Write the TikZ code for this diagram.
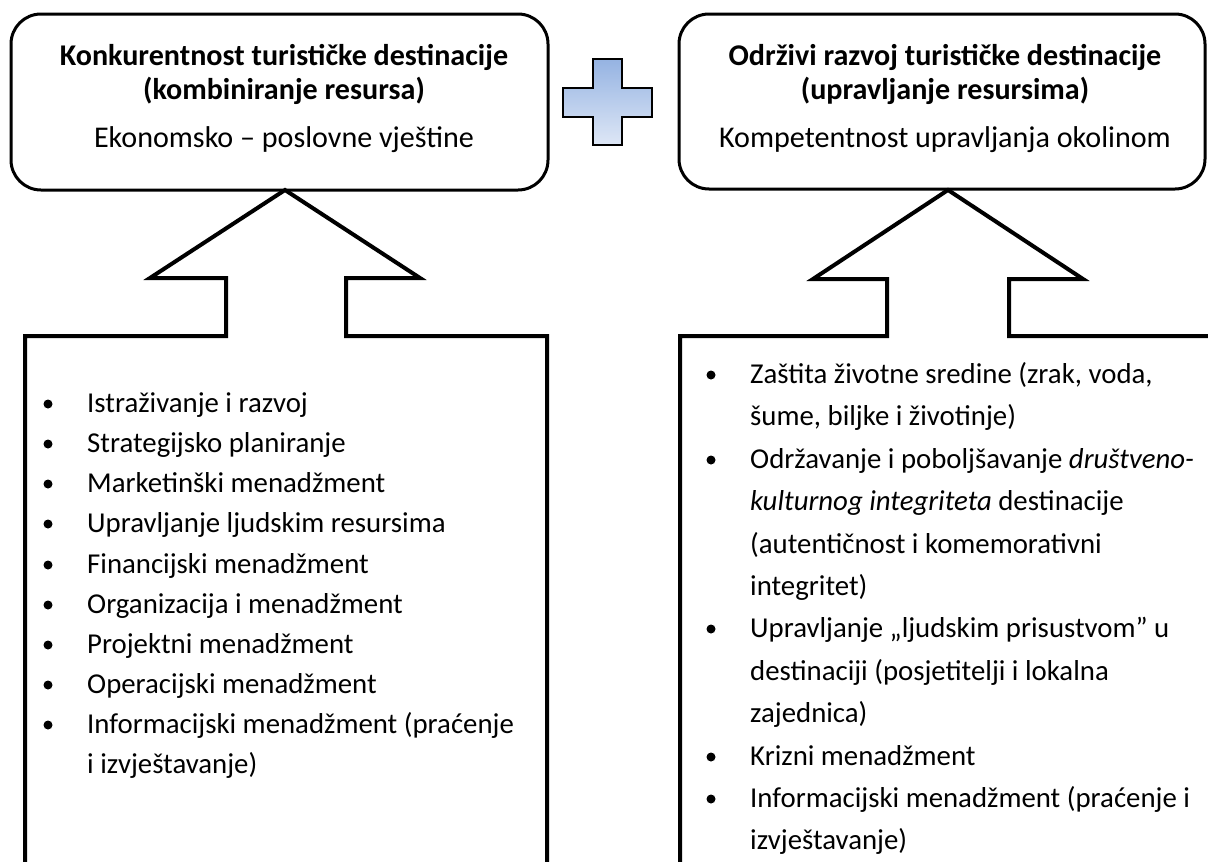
\documentclass[tikz,border=0pt]{standalone}
\usepackage{fontspec}
\setmainfont{Carlito}
\definecolor{plustop}{RGB}{149,179,226}
\definecolor{plusbot}{RGB}{222,231,246}
\begin{document}
\begin{tikzpicture}[x=1pt,y=-1pt,
  topbox/.style={draw=black, line width=3pt, rounded corners=30pt},
  arrowshape/.style={draw=black, line width=4pt, line join=miter},
  titletxt/.style={font=\fontsize{30.1}{36}\selectfont\bfseries, anchor=base, inner sep=0pt},
  subtxt/.style={font=\fontsize{30.1}{36}\selectfont, anchor=base, inner sep=0pt},
  itemtxt/.style={font=\fontsize{28.8}{34}\selectfont, anchor=base west, inner sep=0pt},
  bul/.style={circle, fill=black, inner sep=0pt, minimum size=9pt}]
\clip (0,0) rectangle (1208,862);
\fill[white] (0,0) rectangle (1208,862);

% top boxes
\draw[topbox] (11,14) rectangle (548,190);
\draw[topbox] (679,14) rectangle (1205,189);

% plus sign
\shadedraw[top color=plustop, bottom color=plusbot, draw=black, line width=2pt]
  (593,59) -- (622,59) -- (622,88) -- (652,88) -- (652,117) -- (622,117) -- (622,145)
  -- (593,145) -- (593,117) -- (563,117) -- (563,88) -- (593,88) -- cycle;

% arrow-shaped boxes
\draw[arrowshape] (25,880) -- (25,336) -- (226,336) -- (226,278) -- (150,278) -- (285,190)
  -- (420,278) -- (346,278) -- (346,336) -- (547,336) -- (547,880);
\draw[arrowshape] (680,880) -- (680,336) -- (887,336) -- (887,279) -- (813,279) -- (948,190)
  -- (1083,279) -- (1009,279) -- (1009,336) -- (1230,336);

% top box texts
\node[titletxt] (t1a) at (284,65) {Konkurentnost turističke destinacije};
\node[titletxt] (t1b) at (284,99) {(kombiniranje resursa)};
\node[subtxt] (t1c) at (284,147) {Ekonomsko – poslovne vještine};
\node[titletxt] (t2a) at (945,65) {Održivi razvoj turističke destinacije};
\node[titletxt] (t2b) at (945,99) {(upravljanje resursima)};
\node[subtxt] (t2c) at (945,147) {Kompetentnost upravljanja okolinom};

% left list
\node[itemtxt] (l1) at (87,412) {Istraživanje i razvoj};
\node[itemtxt] (l2) at (87,452) {Strategijsko planiranje};
\node[itemtxt] (l3) at (87,492) {Marketinški menadžment};
\node[itemtxt] (l4) at (87,532) {Upravljanje ljudskim resursima};
\node[itemtxt] (l5) at (87,573) {Financijski menadžment};
\node[itemtxt] (l6) at (87,613) {Organizacija i menadžment};
\node[itemtxt] (l7) at (87,653) {Projektni menadžment};
\node[itemtxt] (l8) at (87,693) {Operacijski menadžment};
\node[itemtxt] (l9) at (87,733) {Informacijski menadžment (praćenje};
\node[itemtxt] (l10) at (87,773) {i izvještavanje)};
\foreach \yy [count=\i] in {412,452,492,532,573,613,653,693,733}
  \node[bul] (lb\i) at (48,\yy-8) {};

% right list
\node[itemtxt] (r1) at (750,383) {Zaštita životne sredine (zrak, voda,};
\node[itemtxt] (r2) at (750,425) {šume, biljke i životinje)};
\node[itemtxt] (r3) at (750,468) {Održavanje i poboljšavanje \textit{društveno-}};
\node[itemtxt] (r4) at (750,510) {\textit{kulturnog integriteta} destinacije};
\node[itemtxt] (r5) at (750,553) {(autentičnost i komemorativni};
\node[itemtxt] (r6) at (750,595) {integritet)};
\node[itemtxt] (r7) at (750,637) {Upravljanje „ljudskim prisustvom” u};
\node[itemtxt] (r8) at (750,680) {destinaciji (posjetitelji i lokalna};
\node[itemtxt] (r9) at (750,722) {zajednica)};
\node[itemtxt] (r10) at (750,765) {Krizni menadžment};
\node[itemtxt] (r11) at (750,807) {Informacijski menadžment (praćenje i};
\node[itemtxt] (r12) at (750,849) {izvještavanje)};
\foreach \yy [count=\i] in {383,468,637,765,807}
  \node[bul] (rb\i) at (711,\yy-8) {};
\end{tikzpicture}
\end{document}
